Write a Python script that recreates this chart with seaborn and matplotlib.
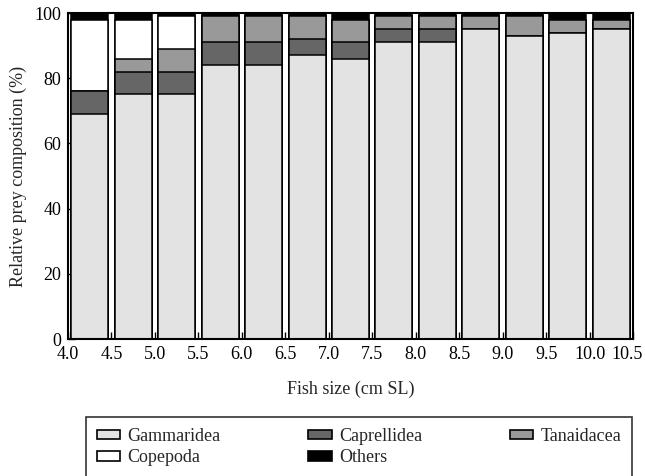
import numpy as np
import pandas as pd
import matplotlib
matplotlib.use("Agg")
import matplotlib.pyplot as plt
import matplotlib.transforms as mtransforms
import seaborn as sns
from matplotlib.patches import Patch

# Bin centres (cm SL) and percentage composition per prey group
fish_size = [4.25, 4.75, 5.25, 5.75, 6.25, 6.75, 7.25, 7.75, 8.25, 8.75, 9.25, 9.75, 10.25]
gammaridea = [69, 75, 75, 84, 84, 87, 86, 91, 91, 95, 93, 94, 95]
caprellidea = [7, 7, 7, 7, 7, 5, 5, 4, 4, 0, 0, 0, 0]
tanaidacea = [0, 4, 7, 8, 8, 7, 7, 4, 4, 4, 6, 4, 3]
copepoda = [22, 12, 10, 0, 0, 0, 0, 0, 0, 0, 0, 0, 0]
others = [2, 2, 1, 1, 1, 1, 2, 1, 1, 1, 1, 2, 2]

edge_ticks = [4.0, 4.5, 5.0, 5.5, 6.0, 6.5, 7.0, 7.5, 8.0, 8.5, 9.0, 9.5, 10.0, 10.5]

groups = ["Gammaridea", "Caprellidea", "Tanaidacea", "Copepoda", "Others"]
colors = ["#e3e3e3", "#666666", "#999999", "#ffffff", "#000000"]

df = pd.DataFrame({"size": fish_size, "Gammaridea": gammaridea,
                   "Caprellidea": caprellidea, "Tanaidacea": tanaidacea,
                   "Copepoda": copepoda, "Others": others})
cum = df[groups].cumsum(axis=1)

sns.set_theme(style="ticks")
plt.rcParams["font.family"] = ["Liberation Serif", "DejaVu Serif"]
fs = 13

fig = plt.figure(figsize=(6.45, 4.76), dpi=100)
ax = fig.add_axes([68 / 645, 137 / 476, 565 / 645, 326 / 476])

# draw cumulative totals from the top of the stack down, so each layer covers the one above
for g, c in zip(groups[::-1], colors[::-1]):
    sns.barplot(x=df["size"], y=cum[g], native_scale=True, color=c,
                width=0.85, edgecolor="black", linewidth=1.1, saturation=1,
                ax=ax)

ax.set_xlim(4.0, 10.5)
ax.set_ylim(0, 100)
ax.set_xticks(edge_ticks)
ax.set_xticklabels([f"{t:.1f}" for t in edge_ticks])
ax.set_yticks([0, 20, 40, 60, 80, 100])
ax.tick_params(direction="in", length=5, width=1, labelsize=fs, colors="black", pad=5)
for s in ax.spines.values():
    s.set_linewidth(1.5)
    s.set_color("black")

# keep the last x label inside the figure
last = ax.get_xticklabels()[-1]
last.set_transform(last.get_transform() +
                   mtransforms.ScaledTranslation(-6 / 100, 0, fig.dpi_scale_trans))

ax.set_xlabel("Fish size (cm SL)", fontsize=fs, labelpad=13)
ax.set_ylabel("Relative prey composition (%)", fontsize=fs, labelpad=5)

handles = [Patch(facecolor=c, edgecolor="black", linewidth=1.2) for c in colors]
order = [0, 3, 1, 4, 2]
leg = fig.legend([handles[i] for i in order], [groups[i] for i in order],
                 loc="upper left", bbox_to_anchor=(86 / 645, 0, 546 / 645, 59 / 476),
                 mode="expand", ncol=3, fancybox=False, frameon=True,
                 handlelength=1.3, handleheight=0.45, handletextpad=0.4,
                 borderaxespad=0, borderpad=0.6, fontsize=fs, labelspacing=0.25)
leg.get_frame().set_edgecolor("black")
leg.get_frame().set_linewidth(1.2)

fig.savefig("out.png", dpi=100)
